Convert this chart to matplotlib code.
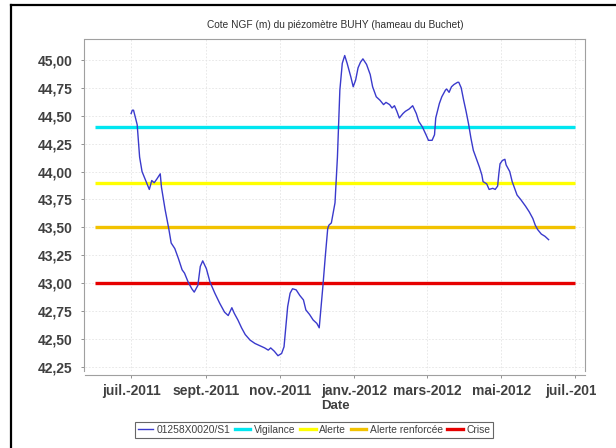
import matplotlib
matplotlib.use("Agg")
import matplotlib.pyplot as plt
from matplotlib.lines import Line2D
from matplotlib.transforms import Bbox
import numpy as np

# ---- data ----
dates = ["2011-07-01", "2011-07-02", "2011-07-03", "2011-07-06", "2011-07-08", "2011-07-10",
         "2011-07-13", "2011-07-16", "2011-07-18", "2011-07-20", "2011-07-22", "2011-07-25",
         "2011-07-26", "2011-07-29", "2011-08-01", "2011-08-03", "2011-08-06", "2011-08-09",
         "2011-08-12", "2011-08-14", "2011-08-17", "2011-08-20", "2011-08-22", "2011-08-25",
         "2011-08-27", "2011-08-29", "2011-09-01", "2011-09-04", "2011-09-08", "2011-09-12",
         "2011-09-16", "2011-09-19", "2011-09-22", "2011-09-24", "2011-09-27", "2011-09-30",
         "2011-10-03", "2011-10-07", "2011-10-11", "2011-10-15", "2011-10-19", "2011-10-22",
         "2011-10-24", "2011-10-27", "2011-10-30", "2011-11-02", "2011-11-04", "2011-11-05",
         "2011-11-07", "2011-11-09", "2011-11-11", "2011-11-14", "2011-11-17", "2011-11-20",
         "2011-11-22", "2011-11-25", "2011-11-28", "2011-12-01", "2011-12-03", "2011-12-06",
         "2011-12-08", "2011-12-10", "2011-12-11", "2011-12-13", "2011-12-16", "2011-12-18",
         "2011-12-20", "2011-12-22", "2011-12-24", "2011-12-26", "2011-12-29", "2011-12-31",
         "2012-01-02", "2012-01-04", "2012-01-06", "2012-01-08", "2012-01-11", "2012-01-14",
         "2012-01-16", "2012-01-19", "2012-01-22", "2012-01-25", "2012-01-27", "2012-01-30",
         "2012-02-01", "2012-02-03", "2012-02-05", "2012-02-07", "2012-02-10", "2012-02-12",
         "2012-02-15", "2012-02-18", "2012-02-21", "2012-02-23", "2012-02-26", "2012-02-29",
         "2012-03-02", "2012-03-05", "2012-03-07", "2012-03-08", "2012-03-11", "2012-03-13",
         "2012-03-16", "2012-03-17", "2012-03-19", "2012-03-21", "2012-03-23", "2012-03-26",
         "2012-03-27", "2012-03-29", "2012-03-31", "2012-04-02", "2012-04-04", "2012-04-06",
         "2012-04-08", "2012-04-13", "2012-04-15", "2012-04-16", "2012-04-19", "2012-04-21",
         "2012-04-24", "2012-04-26", "2012-04-28", "2012-04-29", "2012-04-30", "2012-05-02",
         "2012-05-04", "2012-05-05", "2012-05-08", "2012-05-10", "2012-05-12", "2012-05-14",
         "2012-05-17", "2012-05-21", "2012-05-24", "2012-05-27", "2012-05-29", "2012-05-31",
         "2012-06-03", "2012-06-06", "2012-06-09"]
levels = [44.52, 44.55, 44.55, 44.42, 44.13, 44.00,
          43.92, 43.84, 43.92, 43.90, 43.93, 43.98,
          43.86, 43.66, 43.49, 43.36, 43.31, 43.22,
          43.12, 43.09, 43.01, 42.95, 42.92, 42.98,
          43.15, 43.20, 43.13, 43.01, 42.91, 42.82,
          42.74, 42.71, 42.78, 42.73, 42.67, 42.60,
          42.54, 42.49, 42.46, 42.44, 42.42, 42.40,
          42.42, 42.39, 42.35, 42.37, 42.43, 42.55,
          42.79, 42.91, 42.95, 42.94, 42.89, 42.85,
          42.76, 42.72, 42.67, 42.64, 42.60, 42.97,
          43.24, 43.49, 43.52, 43.54, 43.72, 44.13,
          44.73, 44.97, 45.04, 44.97, 44.85, 44.76,
          44.82, 44.93, 44.98, 45.01, 44.96, 44.87,
          44.76, 44.67, 44.64, 44.60, 44.62, 44.60,
          44.57, 44.59, 44.54, 44.48, 44.52, 44.54,
          44.56, 44.59, 44.52, 44.45, 44.40, 44.33,
          44.28, 44.28, 44.33, 44.48, 44.61, 44.67,
          44.73, 44.74, 44.71, 44.76, 44.78, 44.80,
          44.80, 44.75, 44.64, 44.54, 44.43, 44.30,
          44.19, 44.04, 43.97, 43.91, 43.89, 43.84,
          43.85, 43.84, 43.87, 43.98, 44.07, 44.10,
          44.11, 44.06, 44.00, 43.91, 43.85, 43.79,
          43.75, 43.69, 43.64, 43.58, 43.52, 43.48,
          43.44, 43.42, 43.39]

series_name = "01258X0020/S1"
threshold_names = ["Vigilance", "Alerte", "Alerte renforcée", "Crise"]
threshold_values = [44.40, 43.90, 43.50, 43.00]
threshold_colors = ["#00e6f0", "#ffff00", "#f2c200", "#e60000"]
threshold_period = ["2011-06-01", "2012-07-01"]

tick_dates = ["2011-07-01", "2011-09-01", "2011-11-01", "2012-01-01", "2012-03-01", "2012-05-01", "2012-07-01"]
tick_labels = ["juil.-2011", "sept.-2011", "nov.-2011", "janv.-2012", "mars-2012", "mai-2012", "juil.-2012"]
y_ticks = [42.25, 42.50, 42.75, 43.00, 43.25, 43.50, 43.75, 44.00, 44.25, 44.50, 44.75, 45.00]

title = "Cote NGF (m) du piézomètre BUHY (hameau du Buchet)"
x_label = "Date"

# ---- figure ----
W, H = 616, 448
fig = plt.figure(figsize=(W / 100, H / 100), dpi=100)
fig.patch.set_facecolor("white")

L, R, T, B = 85, 585, 39, 371
ax = fig.add_axes([L / W, 1 - B / H, (R - L) / W, (B - T) / H])

x = np.array(dates, dtype="datetime64[D]")
tp = np.array(threshold_period, dtype="datetime64[D]")

for name, val, col in zip(threshold_names, threshold_values, threshold_colors):
    ax.plot(tp, [val, val], color=col, lw=2.4, solid_capstyle="butt", zorder=2)
ax.plot(x, levels, color="#3a3acc", lw=1.0, zorder=3)

ax.set_xlim(np.datetime64("2011-05-24"), np.datetime64("2012-07-09"))
ax.set_ylim(42.213, 45.188)

ax.set_yticks(y_ticks)
ax.set_yticklabels([f"{v:.2f}".replace(".", ",") for v in y_ticks])
ax.set_xticks(np.array(tick_dates, dtype="datetime64[D]"))
ax.set_xticklabels(tick_labels)

ax.grid(True, color="#e4e4e4", lw=0.6, ls=(0, (2, 2)))
ax.set_axisbelow(True)
for s in ax.spines.values():
    s.set_color("#a0a0a0")
    s.set_linewidth(0.8)
ax.spines["bottom"].set_position(("outward", 3))
ax.spines["left"].set_position(("outward", 1))

ax.tick_params(axis="both", colors="#808080", length=2, width=0.6)
ax.tick_params(axis="y", pad=6)
ax.tick_params(axis="x", pad=4)
for lab in ax.get_yticklabels() + ax.get_xticklabels():
    lab.set_fontfamily("Liberation Sans")
    lab.set_fontweight("bold")
    lab.set_color("#404040")
    lab.set_fontsize(10)

ax.set_xlabel(x_label, fontfamily="Liberation Sans", fontweight="bold", fontsize=9.5,
              color="#404040", labelpad=2)
fig.text((L + R) / 2 / W, 1 - 25 / H, title, ha="center", va="center",
         fontfamily="Liberation Sans", fontsize=7.3, color="#303030")

handles = [Line2D([], [], color="#3a3acc", lw=1.0)] + [
    Line2D([], [], color=c, lw=2.4) for c in threshold_colors]
leg = fig.legend(handles, [series_name] + threshold_names, loc="center",
                 bbox_to_anchor=(314 / W, 1 - 430 / H), ncol=5, frameon=True,
                 fancybox=False, handlelength=1.5, handletextpad=0.35, columnspacing=0.45,
                 borderpad=0.25, prop={"family": "Liberation Sans", "size": 7.4})
leg.get_frame().set_edgecolor("#404040")
leg.get_frame().set_linewidth(0.8)
for t in leg.get_texts():
    t.set_color("#404040")

# outer frame
fig.add_artist(Line2D([11 / W, 1], [1 - 5.5 / H, 1 - 5.5 / H], color="black", lw=1.6,
                      transform=fig.transFigure))
fig.add_artist(Line2D([11 / W, 11 / W], [0, 1 - 5.5 / H], color="black", lw=1.6,
                      transform=fig.transFigure))

# clip the last tick label like the reference
fig.canvas.draw()
clip = Bbox.from_extents(0, 0, 596, H)
for lab in ax.get_xticklabels():
    lab.set_clip_on(True)
    lab.set_clip_box(clip)

fig.savefig("out.png", dpi=100)
